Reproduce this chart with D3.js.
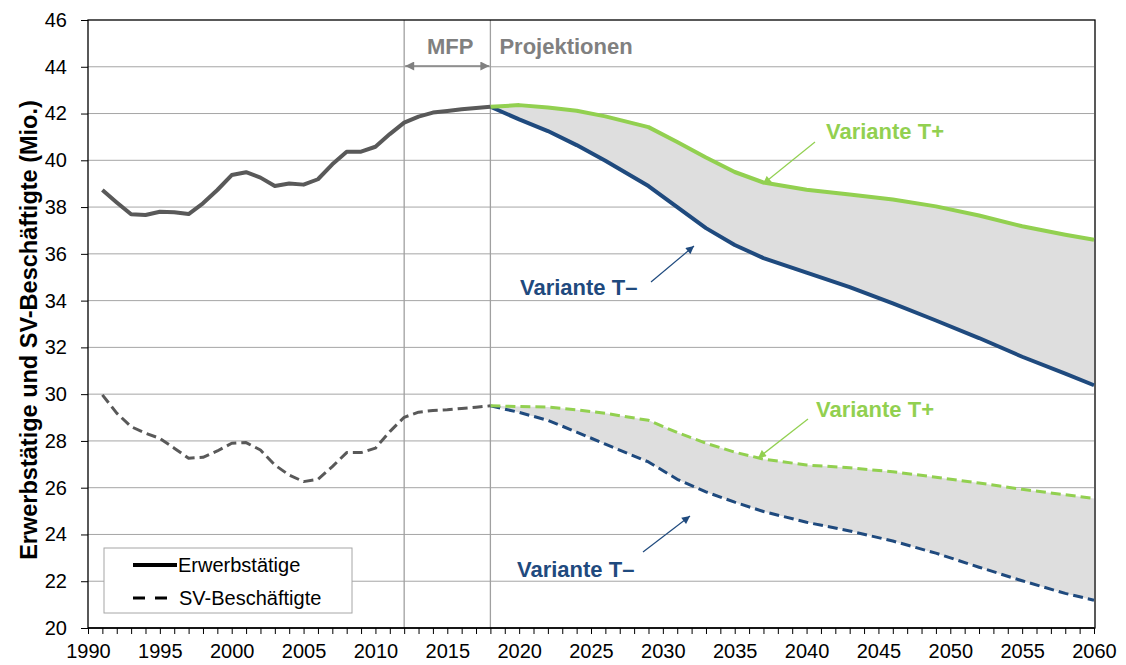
<!DOCTYPE html>
<html>
<head>
<meta charset="utf-8">
<script src="https://cdn.jsdelivr.net/npm/d3@7"></script>
<style>
body { margin: 0; background: #fff; }
text { font-family: "Liberation Sans", Arial, sans-serif; }
</style>
</head>
<body>
<div id="chart"></div>
<script>
// historische Werte 1991-2018 (Mio.)
const histYears = [1991, 1992, 1993, 1994, 1995, 1996, 1997, 1998, 1999, 2000, 2001, 2002, 2003, 2004,
    2005, 2006, 2007, 2008, 2009, 2010, 2011, 2012, 2013, 2014, 2015, 2016, 2017, 2018];
const histErw = [38.73, 38.2, 37.69, 37.66, 37.8, 37.78, 37.7, 38.16, 38.73, 39.37, 39.49, 39.26, 38.9, 39.01,
    38.96, 39.19, 39.83, 40.37, 40.37, 40.58, 41.12, 41.61, 41.87, 42.04, 42.11, 42.18, 42.24, 42.29];
const histSV = [29.97, 29.19, 28.61, 28.33, 28.11, 27.69, 27.26, 27.3, 27.57, 27.9, 27.93, 27.61, 26.97, 26.54,
    26.26, 26.36, 26.9, 27.5, 27.5, 27.69, 28.4, 29.01, 29.23, 29.3, 29.33, 29.39, 29.44, 29.5];

// Projektionen
const projYears = [2018, 2020, 2022, 2024, 2026, 2029, 2031, 2033, 2035, 2037, 2040, 2043, 2046, 2049, 2052, 2055, 2058, 2060];
const erwPlus = [42.29, 42.36, 42.26, 42.12, 41.88, 41.42, 40.78, 40.12, 39.5, 39.05, 38.74, 38.54, 38.32, 38.03, 37.64, 37.18, 36.82, 36.6];
const erwMinus = [42.29, 41.75, 41.25, 40.65, 39.98, 38.9, 38.0, 37.1, 36.38, 35.82, 35.2, 34.58, 33.88, 33.15, 32.4, 31.6, 30.88, 30.38];
const svPlus = [29.5, 29.47, 29.45, 29.33, 29.18, 28.88, 28.36, 27.9, 27.52, 27.22, 26.97, 26.85, 26.68, 26.45, 26.2, 25.93, 25.7, 25.54];
const svMinus = [29.5, 29.22, 28.88, 28.38, 27.86, 27.1, 26.36, 25.82, 25.38, 24.98, 24.52, 24.15, 23.72, 23.2, 22.6, 22.02, 21.48, 21.19];

const yTicks = [20, 22, 24, 26, 28, 30, 32, 34, 36, 38, 40, 42, 44, 46];
const xLabelYears = [1990, 1995, 2000, 2005, 2010, 2015, 2020, 2025, 2030, 2035, 2040, 2045, 2050, 2055, 2060];

const width = 1126, height = 665;
const green = "#92d050", blue = "#1f4a7e", grey = "#595959";

const svg = d3.select("#chart").append("svg")
    .attr("width", width)
    .attr("height", height);

const x = d3.scaleLinear().domain([1990, 2060]).range([88, 1094]);
const y = d3.scaleLinear().domain([20, 46]).range([628, 20]);

const defs = svg.append("defs");
function marker(id, color, w, h) {
    defs.append("marker")
        .attr("id", id)
        .attr("viewBox", "0 0 10 10")
        .attr("refX", 10).attr("refY", 5)
        .attr("markerUnits", "userSpaceOnUse")
        .attr("markerWidth", w).attr("markerHeight", h)
        .attr("orient", "auto-start-reverse")
        .append("path")
        .attr("d", "M0,0L10,5L0,10z")
        .attr("fill", color);
}
marker("arrGrey", "#808080", 10, 9);
marker("arrGreen", green, 9, 8);
marker("arrBlue", blue, 9, 8);

// gridlines
svg.append("g")
    .selectAll("line")
    .data(yTicks.slice(1, -1))
    .enter().append("line")
    .attr("x1", x(1990)).attr("x2", x(2060))
    .attr("y1", d => y(d)).attr("y2", d => y(d))
    .attr("stroke", "#a6a6a6")
    .attr("stroke-width", 1);

// Bandbreite
const area = (lo, hi) => d3.area()
    .x((d, i) => x(projYears[i]))
    .y0((d, i) => y(lo[i]))
    .y1((d, i) => y(hi[i]));

svg.append("path").datum(projYears).attr("d", area(erwMinus, erwPlus)).attr("fill", "#dedede");
svg.append("path").datum(projYears).attr("d", area(svMinus, svPlus)).attr("fill", "#dedede");

// vertical separators
[2012, 2018].forEach(yr => {
    svg.append("line")
        .attr("x1", x(yr)).attr("x2", x(yr))
        .attr("y1", y(46)).attr("y2", y(20))
        .attr("stroke", "#a0a0a0")
        .attr("stroke-width", 1.3);
});

// plot border
svg.append("rect")
    .attr("x", x(1990)).attr("y", y(46))
    .attr("width", x(2060) - x(1990) + 1).attr("height", y(20) - y(46))
    .attr("fill", "none")
    .attr("stroke", "#000")
    .attr("stroke-width", 1.3);

// lines
const line = (years, vals) => d3.line()
    .x((d, i) => x(years[i]))
    .y((d, i) => y(vals[i]))(years);

function drawLine(years, vals, color, dashed) {
    svg.append("path")
        .attr("d", line(years, vals))
        .attr("fill", "none")
        .attr("stroke", color)
        .attr("stroke-width", dashed ? 3 : 4)
        .attr("stroke-dasharray", dashed ? "10,5" : null)
        .attr("stroke-linejoin", "round");
}
drawLine(projYears, erwMinus, blue, false);
drawLine(projYears, erwPlus, green, false);
drawLine(projYears, svMinus, blue, true);
drawLine(projYears, svPlus, green, true);
drawLine(histYears, histErw, grey, false);
drawLine(histYears, histSV, grey, true);

// axes
svg.append("g")
    .attr("transform", "translate(" + x(1990) + ",0)")
    .call(d3.axisLeft(y).tickValues(yTicks).tickSize(7).tickPadding(14))
    .call(g => g.select(".domain").remove())
    .call(g => g.selectAll("line").attr("stroke", "#000"))
    .call(g => g.selectAll("text").attr("font-size", 20).attr("fill", "#000").attr("font-family", null));

const xTickYears = [];
for (let yr = 1990; yr <= 2060; yr++) xTickYears.push(yr);

svg.append("g")
    .attr("transform", "translate(0," + y(20) + ")")
    .call(d3.axisBottom(x).tickValues(xTickYears).tickSize(6).tickPadding(10)
        .tickFormat(d => xLabelYears.includes(d) ? d : ""))
    .call(g => g.select(".domain").remove())
    .call(g => g.selectAll("line").attr("stroke", "#000"))
    .call(g => g.selectAll("text").attr("font-size", 20).attr("fill", "#000").attr("font-family", null));

svg.append("line")
    .attr("x1", x(1990)).attr("x2", x(2060))
    .attr("y1", y(20)).attr("y2", y(20))
    .attr("stroke", "#000").attr("stroke-width", 1.5);

// y axis title
svg.append("text")
    .attr("transform", "translate(37," + 330 + ") rotate(-90)")
    .attr("text-anchor", "middle")
    .attr("font-size", 23.5)
    .attr("font-weight", "bold")
    .text("Erwerbstätige und SV-Beschäftigte (Mio.)");

// MFP / Projektionen
svg.append("text")
    .attr("x", (x(2012) + x(2018)) / 2 + 3).attr("y", 54)
    .attr("text-anchor", "middle")
    .attr("font-size", 22).attr("font-weight", "bold").attr("fill", "#808080")
    .text("MFP");
svg.append("text")
    .attr("x", x(2018) + 9).attr("y", 54)
    .attr("font-size", 22).attr("font-weight", "bold").attr("fill", "#808080")
    .text("Projektionen");
svg.append("line")
    .attr("x1", x(2012) + 1).attr("x2", x(2018) - 1)
    .attr("y1", 66).attr("y2", 66)
    .attr("stroke", "#808080").attr("stroke-width", 1.5)
    .attr("marker-start", "url(#arrGrey)")
    .attr("marker-end", "url(#arrGrey)");

// Annotations
const notes = [
    {t: "Variante T+", c: green, tx: 826, ty: 139, a: [815, 142, 763, 184], m: "arrGreen"},
    {t: "Variante T\u2013", c: blue, tx: 520, ty: 295, a: [651, 282, 694, 246], m: "arrBlue"},
    {t: "Variante T+", c: green, tx: 816, ty: 417, a: [808, 419, 758, 458], m: "arrGreen"},
    {t: "Variante T\u2013", c: blue, tx: 517, ty: 577, a: [643, 552, 690, 516], m: "arrBlue"}
];
notes.forEach(n => {
    svg.append("text")
        .attr("x", n.tx).attr("y", n.ty)
        .attr("font-size", 22).attr("font-weight", "bold").attr("fill", n.c)
        .text(n.t);
    svg.append("line")
        .attr("x1", n.a[0]).attr("y1", n.a[1]).attr("x2", n.a[2]).attr("y2", n.a[3])
        .attr("stroke", n.c).attr("stroke-width", 1.2)
        .attr("marker-end", "url(#" + n.m + ")");
});

// legend
const lg = svg.append("g");
lg.append("rect")
    .attr("x", 104).attr("y", 548).attr("width", 248).attr("height", 65)
    .attr("fill", "#fff").attr("stroke", "#a6a6a6").attr("stroke-width", 1);
lg.append("line").attr("x1", 133).attr("x2", 177).attr("y1", 565).attr("y2", 565)
    .attr("stroke", "#000").attr("stroke-width", 4);
lg.append("line").attr("x1", 133).attr("x2", 168).attr("y1", 598).attr("y2", 598)
    .attr("stroke", "#000").attr("stroke-width", 3).attr("stroke-dasharray", "12,10");
lg.append("text").attr("x", 178).attr("y", 572).attr("font-size", 20).text("Erwerbstätige");
lg.append("text").attr("x", 179).attr("y", 605).attr("font-size", 20).text("SV-Beschäftigte");
</script>
</body>
</html>
